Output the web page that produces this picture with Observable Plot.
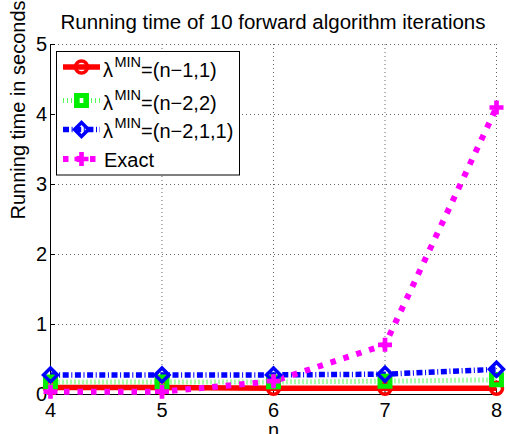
<!DOCTYPE html>
<html>
<head>
<meta charset="utf-8">
<script src="https://cdn.jsdelivr.net/npm/d3@7"></script>
<script src="https://cdn.jsdelivr.net/npm/@observablehq/plot@0.6"></script>
<style>
  body { margin: 0; background: #fff; }
  #wrap { position: relative; width: 506px; height: 434px; overflow: hidden; font-family: "Liberation Sans", Arial, sans-serif; background:#fff; }
  #title { position: absolute; left: 50px; top: 12px; width: 446px; text-align: center; font-size: 20.5px; line-height: 20px; color: #000; white-space: nowrap; }
  #legend { position: absolute; left: 0; top: 0; }
</style>
</head>
<body>
<div id="wrap">
  <div id="chart"></div>
  <div id="title">Running time of 10 forward algorithm iterations</div>
</div>
<script>
// ---- data ----
const nValues = [4, 5, 6, 7, 8];
const timeN11 = [0.10, 0.10, 0.09, 0.09, 0.09];   // λMIN=(n−1,1)
const timeN22 = [0.18, 0.18, 0.18, 0.19, 0.21];   // λMIN=(n−2,2)
const timeN211 = [0.28, 0.28, 0.28, 0.29, 0.36];  // λMIN=(n−2,1,1)
const timeExact = [0.04, 0.04, 0.19, 0.71, 4.1];  // Exact
const xTicks = [4, 5, 6, 7, 8];
const yTicks = [0, 1, 2, 3, 4, 5];
const seriesNames = ["(n−1,1)", "(n−2,2)", "(n−2,1,1)", "Exact"];
const xLabel = "n";
const yLabel = "Running time in seconds";

// ---- styles ----
const styles = [
  {stroke: "#ff0000", width: 5.5, dash: null, symbol: "circle", r: 6, mStroke: "#ff0000", mFill: "none", mWidth: 3.5},
  {stroke: "#55ff55", width: 5, dash: "1,3", symbol: "square", r: 5.6, mStroke: "#00ee00", mFill: "none", mWidth: 5},
  {stroke: "#0000ff", width: 5.5, dash: "6,2.6,1,2.6", symbol: "diamond2", r: 6.3, mStroke: "#0000ff", mFill: "none", mWidth: 3.5},
  {stroke: "#ff00ff", width: 6, dash: "5.5,8", symbol: "cross", r: 5.9, mStroke: "none", mFill: "#ff00ff", mWidth: 0}
];
const seriesValues = [timeN11, timeN22, timeN211, timeExact];
const tables = seriesValues.map(vals => nValues.map((n, i) => ({n, t: vals[i]})));

const W = 506, H = 434, mL = 50, mR = 10, mT = 44, mB = 40;
const fw = W - mL - mR, fh = H - mT - mB;

const marks = [
  Plot.gridX(xTicks, {stroke: "#666", strokeOpacity: 1, strokeDasharray: "1,3"}),
  Plot.gridY(yTicks, {stroke: "#666", strokeOpacity: 1, strokeDasharray: "1,3"}),
  Plot.ruleX([xTicks[0]], {stroke: "#000"}),
  Plot.ruleY([yTicks[0]], {stroke: "#000"}),
  Plot.tickY(yTicks, {y: d => d, insetRight: fw - 5, stroke: "#000"}),
  Plot.tickX(xTicks, {x: d => d, insetTop: fh - 5, stroke: "#000"}),
  Plot.axisY(yTicks, {tickSize: 0, tickPadding: 3.5, label: null, fontSize: 20, tickFormat: d => String(d)}),
  Plot.axisX(xTicks, {tickSize: 0, tickPadding: 8, label: null, fontSize: 20, tickFormat: d => String(d)}),
  Plot.text([yLabel], {frameAnchor: "left", rotate: -90, dx: -31.5, fontSize: 20, fill: "#000"}),
  Plot.text([xLabel], {frameAnchor: "bottom", lineAnchor: "top", dy: 28, fontSize: 20, fill: "#000"})
];
tables.forEach((tab, i) => {
  const s = styles[i];
  marks.push(Plot.line(tab, {x: "n", y: "t", stroke: s.stroke, strokeWidth: s.width, strokeDasharray: s.dash, strokeLinecap: "butt", strokeLinejoin: "miter"}));
});
tables.forEach((tab, i) => {
  const s = styles[i];
  marks.push(Plot.dot(tab, {x: "n", y: "t", symbol: s.symbol, r: s.r, stroke: s.mStroke, fill: s.mFill, strokeWidth: s.mWidth}));
});

const plot = Plot.plot({
  width: W, height: H,
  marginLeft: mL, marginRight: mR, marginTop: mT, marginBottom: mB,
  x: {domain: [4, 8]},
  y: {domain: [0, 5]},
  style: {fontFamily: "'Liberation Sans', Arial, sans-serif", fontSize: "20px", color: "#000", background: "#fff", overflow: "visible"},
  marks
});
document.getElementById("chart").appendChild(plot);

// ---- legend ----
const lg = d3.select("#wrap").append("svg").attr("id", "legend").attr("width", W).attr("height", H)
  .style("font-family", "'Liberation Sans', Arial, sans-serif");
lg.append("rect").attr("x", 56.5).attr("y", 51.5).attr("width", 183).attr("height", 123.5)
  .attr("fill", "#fff").attr("stroke", "#000").attr("stroke-width", 1);
const rowY = [67, 100.5, 129.5, 159];
const baseY = [76.5, 110, 137.5, 167.3];
const symMap = {circle: d3.symbolCircle, square: d3.symbolSquare, diamond2: d3.symbolDiamond2, cross: d3.symbolCross};
seriesNames.forEach((name, i) => {
  const s = styles[i], y = rowY[i];
  lg.append("line").attr("x1", 63).attr("x2", 100).attr("y1", y).attr("y2", y)
    .attr("stroke", s.stroke).attr("stroke-width", s.width).attr("stroke-dasharray", s.dash);
  lg.append("path").attr("transform", `translate(81.5,${y})`)
    .attr("d", d3.symbol(symMap[s.symbol], Math.PI * s.r * s.r)())
    .attr("fill", s.mFill).attr("stroke", s.mStroke).attr("stroke-width", s.mWidth);
  const t = lg.append("text").attr("x", name === "Exact" ? 104 : 103).attr("y", baseY[i]).attr("font-size", 20).attr("fill", "#000");
  if (name === "Exact") {
    t.text(name);
  } else {
    t.append("tspan").text("λ");
    t.append("tspan").attr("font-size", 14.5).attr("dx", 1.5).attr("dy", -10).text("MIN");
    t.append("tspan").attr("dy", 10).text("=" + name);
  }
});
</script>
</body>
</html>
